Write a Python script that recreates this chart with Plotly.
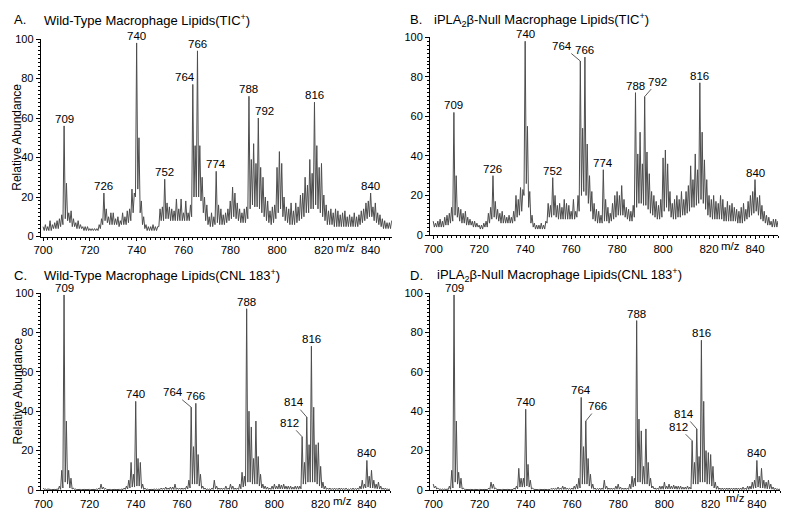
import plotly.graph_objects as go

# ---------------- data ----------------
mz = list(range(700, 851))

# Panel A: Wild-Type TIC+  (peak apex at each integer m/z, then the valley after it)
wt_tic_peak = [
    5, 6, 5, 8, 6, 7, 8, 9, 11, 56,
    27, 12, 13, 9, 7, 8, 6, 5, 5, 5,
    4, 4, 4, 4, 6, 9, 22, 14, 10, 12,
    12, 9, 10, 8, 12, 10, 13, 14, 24, 22,
    98, 50, 18, 10, 6, 5, 5, 6, 5, 5,
    14, 15, 29, 17, 15, 14, 13, 19, 14, 19,
    12, 18, 12, 16, 77, 46, 94, 46, 30, 20,
    16, 10, 12, 10, 33, 16, 14, 11, 12, 14,
    18, 25, 22, 17, 14, 12, 14, 15, 71, 39,
    47, 37, 60, 35, 30, 20, 18, 13, 15, 16,
    35, 43, 37, 20, 15, 14, 17, 13, 17, 15,
    21, 22, 30, 26, 39, 32, 68, 46, 35, 37,
    21, 16, 13, 14, 12, 14, 13, 11, 12, 13,
    10, 11, 10, 12, 10, 11, 13, 14, 17, 18,
    22, 15, 17, 12, 11, 9, 8, 7, 7, 8,
    7,
]
wt_tic_valley = [
    3, 3, 3, 3, 4, 4, 4, 5, 6, 9,
    8, 7, 5, 5, 4, 4, 4, 3, 3, 3,
    3, 3, 3, 3, 4, 6, 8, 7, 6, 6,
    6, 6, 5, 6, 6, 6, 7, 8, 12, 20,
    24, 12, 6, 4, 3, 3, 3, 3, 3, 5,
    8, 8, 9, 9, 8, 8, 8, 8, 8, 8,
    8, 8, 8, 10, 20, 20, 20, 18, 12, 8,
    6, 5, 5, 6, 7, 6, 6, 6, 7, 8,
    9, 10, 9, 8, 7, 7, 7, 9, 14, 16,
    15, 15, 14, 12, 10, 8, 7, 6, 7, 9,
    12, 14, 10, 8, 7, 6, 6, 6, 7, 8,
    9, 10, 12, 12, 14, 14, 16, 14, 12, 10,
    8, 6, 6, 6, 5, 5, 5, 5, 5, 5,
    5, 5, 5, 5, 5, 6, 7, 8, 9, 10,
    10, 8, 7, 6, 5, 4, 4, 4, 4, 4,
    4,
]

# Panel B: iPLA2beta-Null TIC+
ko_tic_peak = [
    7, 6, 7, 8, 7, 9, 10, 11, 14, 62,
    30, 14, 13, 11, 12, 9, 8, 7, 7, 6,
    5, 5, 6, 7, 11, 14, 30, 17, 13, 11,
    12, 10, 9, 10, 9, 12, 20, 18, 24, 23,
    98, 55, 22, 10, 6, 5, 5, 6, 5, 7,
    16, 15, 29, 20, 15, 16, 14, 18, 16, 15,
    12, 18, 12, 20, 88, 54, 90, 46, 30, 22,
    16, 13, 12, 10, 33, 18, 14, 11, 16, 20,
    22, 20, 25, 18, 14, 13, 12, 15, 72, 41,
    52, 36, 70, 42, 31, 22, 20, 17, 15, 18,
    39, 43, 36, 22, 16, 18, 20, 18, 22, 18,
    22, 25, 35, 28, 41, 33, 77, 52, 38, 28,
    20, 18, 20, 17, 16, 20, 18, 14, 17, 15,
    16, 14, 13, 12, 14, 16, 13, 17, 20, 22,
    28, 19, 20, 15, 12, 10, 9, 7, 8, 8,
    7,
]
ko_tic_valley = [
    4, 4, 4, 4, 4, 5, 5, 6, 7, 10,
    9, 7, 6, 6, 5, 5, 5, 4, 4, 4,
    3, 3, 4, 4, 6, 8, 9, 8, 7, 6,
    6, 6, 6, 6, 6, 7, 9, 10, 12, 20,
    26, 14, 6, 4, 3, 3, 3, 3, 3, 6,
    9, 9, 10, 9, 8, 8, 8, 8, 8, 8,
    8, 8, 9, 12, 20, 22, 20, 16, 12, 8,
    7, 6, 6, 6, 7, 7, 6, 7, 8, 9,
    10, 10, 10, 9, 8, 7, 7, 9, 14, 16,
    16, 15, 15, 13, 11, 10, 9, 8, 8, 9,
    12, 14, 12, 9, 8, 8, 9, 9, 10, 10,
    11, 12, 14, 14, 15, 16, 18, 16, 13, 10,
    9, 8, 8, 8, 8, 8, 7, 7, 7, 7,
    7, 7, 6, 6, 6, 7, 8, 9, 10, 11,
    12, 10, 8, 7, 6, 5, 5, 4, 4, 4,
    4,
]

# Panel C: Wild-Type CNL 183+
wt_cnl_peak = [
    1, 0.5, 0.5, 0.3, 0.3, 0.3, 0.5, 2, 10, 99,
    35, 10, 6, 1, 0.5, 0.3, 0.3, 0.3, 0.3, 0.3,
    0.3, 0.3, 0.3, 0.5, 1, 3, 1.5, 0.8, 0.3, 0.3,
    0.3, 0.3, 0.3, 0.3, 0.5, 1, 2, 5, 14, 8,
    45, 16, 14, 3, 1, 0.5, 0.3, 0.3, 0.5, 0.5,
    0.5, 1, 1, 1.5, 1, 1.5, 1.5, 3, 1, 1,
    1, 1, 2, 5, 42, 22, 44, 18, 8, 2,
    1, 0.5, 0.5, 1, 5, 2, 1, 1, 1, 2,
    1, 3, 2, 1, 1, 3, 9, 7, 92, 40,
    32, 16, 35, 17, 8, 3, 2, 1.5, 1, 2,
    3, 2, 3, 2.5, 3, 2, 2, 2, 1.5, 2,
    2, 2, 27, 14, 37, 23, 73, 42, 23, 24,
    12, 4, 2, 1, 1, 0.8, 1, 0.8, 1, 1,
    0.8, 1, 0.5, 0.8, 1, 0.8, 1, 2, 5, 3,
    15, 7, 10, 5, 3, 4, 2, 1, 1, 0.5,
    0.5,
]
wt_cnl_valley = [
    0.3, 0.2, 0.2, 0.2, 0.2, 0.2, 0.2, 0.3, 1, 4,
    3, 1, 0.5, 0.3, 0.2, 0.2, 0.2, 0.2, 0.2, 0.2,
    0.2, 0.2, 0.2, 0.2, 0.3, 0.5, 0.3, 0.2, 0.2, 0.2,
    0.2, 0.2, 0.2, 0.2, 0.2, 0.3, 0.5, 1, 1.5, 1.5,
    2, 2, 0.8, 0.3, 0.2, 0.2, 0.2, 0.2, 0.2, 0.2,
    0.2, 0.3, 0.3, 0.3, 0.3, 0.3, 0.3, 0.3, 0.3, 0.3,
    0.3, 0.3, 0.5, 1, 3, 3, 3, 2, 0.8, 0.4,
    0.2, 0.2, 0.2, 0.3, 0.5, 0.3, 0.3, 0.3, 0.3, 0.3,
    0.3, 0.4, 0.3, 0.3, 0.3, 0.6, 1.5, 2, 4, 4,
    3, 3, 3, 2, 1, 0.6, 0.4, 0.3, 0.3, 0.4,
    0.5, 0.5, 0.5, 0.5, 0.5, 0.4, 0.4, 0.4, 0.4, 0.4,
    0.4, 0.6, 3, 3, 4, 4, 4, 4, 3, 2,
    1, 0.5, 0.3, 0.3, 0.2, 0.2, 0.2, 0.2, 0.2, 0.2,
    0.2, 0.2, 0.2, 0.2, 0.2, 0.2, 0.3, 0.5, 0.8, 1,
    1.5, 1, 1, 0.8, 0.6, 0.5, 0.3, 0.2, 0.2, 0.2,
    0.2,
]

# Panel D: iPLA2beta-Null CNL 183+
ko_cnl_peak = [
    3, 2, 1, 0.5, 0.5, 0.5, 0.5, 2, 10, 99,
    35, 9, 6, 1, 0.3, 0.3, 0.3, 0.3, 0.3, 0.3,
    0.3, 0.3, 0.3, 0.3, 1, 4, 3, 1, 0.3, 0.3,
    0.3, 0.3, 0.3, 0.3, 0.3, 1, 2, 11, 6, 6,
    41, 13, 5, 1, 0.3, 0.3, 0.3, 0.3, 0.3, 0.3,
    0.3, 0.8, 1, 0.8, 1.5, 1, 2, 1.5, 1, 0.8,
    1, 2, 3, 6, 47, 22, 35, 16, 8, 3,
    1, 0.8, 1, 1, 5, 2, 1, 1, 1, 2,
    3, 1.5, 1, 1, 1, 3, 7, 6, 86, 36,
    30, 12, 31, 14, 6, 2, 1, 1, 2, 2,
    4, 2, 3, 2, 2.5, 2, 2, 2, 1.5, 1.5,
    2, 1.5, 25, 14, 31, 17, 76, 45, 20, 19,
    18, 12, 4, 2, 1, 1, 1, 1, 1, 1,
    1, 1, 1, 1, 1.5, 1, 2, 2, 4, 5,
    15, 7, 11, 5, 4, 5, 3, 1.5, 1, 0.5,
    0.5,
]
ko_cnl_valley = [
    1, 0.5, 0.3, 0.2, 0.2, 0.2, 0.2, 0.3, 1, 4,
    3, 1, 0.5, 0.3, 0.2, 0.2, 0.2, 0.2, 0.2, 0.2,
    0.2, 0.2, 0.2, 0.2, 0.3, 0.8, 0.5, 0.2, 0.2, 0.2,
    0.2, 0.2, 0.2, 0.2, 0.2, 0.3, 0.6, 1.5, 1.5, 1.5,
    2, 1.5, 0.5, 0.3, 0.2, 0.2, 0.2, 0.2, 0.2, 0.2,
    0.2, 0.3, 0.3, 0.3, 0.3, 0.3, 0.3, 0.3, 0.3, 0.3,
    0.3, 0.4, 0.6, 1, 3, 3, 3, 2, 0.8, 0.4,
    0.2, 0.2, 0.2, 0.3, 0.5, 0.3, 0.3, 0.3, 0.3, 0.4,
    0.4, 0.3, 0.3, 0.3, 0.3, 0.6, 1.5, 2, 4, 4,
    3, 3, 3, 2, 1, 0.5, 0.3, 0.3, 0.4, 0.4,
    0.5, 0.5, 0.5, 0.5, 0.5, 0.4, 0.4, 0.4, 0.4, 0.4,
    0.4, 0.5, 3, 3, 3, 4, 4, 4, 3, 3,
    2, 1, 0.4, 0.3, 0.2, 0.2, 0.2, 0.2, 0.2, 0.2,
    0.2, 0.2, 0.2, 0.2, 0.3, 0.2, 0.3, 0.5, 0.8, 1,
    1.5, 1, 1, 0.8, 0.6, 0.6, 0.4, 0.2, 0.2, 0.2,
    0.2,
]

# labelled peaks per panel
wt_tic_labels = [709, 726, 740, 752, 764, 766, 774, 788, 792, 816, 840]
ko_tic_labels = [709, 726, 740, 752, 764, 766, 774, 788, 792, 816, 840]
wt_cnl_labels = [709, 740, 764, 766, 788, 812, 814, 816, 840]
ko_cnl_labels = [709, 740, 764, 766, 788, 812, 814, 816, 840]

x_ticks = [700, 720, 740, 760, 780, 800, 820, 840]
y_ticks = [0, 20, 40, 60, 80, 100]

titles = [
    "Wild-Type Macrophage Lipids(TIC<sup>+</sup>)",
    "iPLA<sub>2</sub>β-Null Macrophage Lipids(TIC<sup>+</sup>)",
    "Wild-Type Macrophage Lipids(CNL 183<sup>+</sup>)",
    "iPLA<sub>2</sub>β-Null Macrophage Lipids(CNL 183<sup>+</sup>)",
]
letters = ["A.", "B.", "C.", "D."]
y_title = "Relative Abundance"

# ---------------- figure ----------------
W, H = 800, 521
FONT = "Arial, Liberation Sans, sans-serif"

panels = [
    dict(peak=wt_tic_peak, valley=wt_tic_valley, labels=wt_tic_labels,
         xd=[40.7 / W, 391.7 / W], xr=[699, 849], yd=[1 - 236.5 / H, 1 - 39 / H],
         leaders={764: (-8, 0, False), 792: (6, 0, False)},
         mzlab=(829.4, 0), title_xy=(42, 20), letter_xy=(12, 20), ytitle=True),
    dict(peak=ko_tic_peak, valley=ko_tic_valley, labels=ko_tic_labels,
         xd=[430 / W, 778 / W], xr=[698.6, 850], yd=[1 - 235 / H, 1 - 37.3 / H],
         leaders={764: (-18, -8, True), 792: (13, -8, True)},
         mzlab=(829.2, 0), title_xy=(432, 20), letter_xy=(408, 20), ytitle=False),
    dict(peak=wt_cnl_peak, valley=wt_cnl_valley, labels=wt_cnl_labels,
         xd=[40.7 / W, 390 / W], xr=[698.9, 850], yd=[1 - 490 / H, 1 - 293 / H],
         leaders={764: (-18, -8, True), 812: (-13, -7, True), 814: (-13, -8, True)},
         mzlab=(829.6, 0), title_xy=(42, 275), letter_xy=(12, 275), ytitle=True),
    dict(peak=ko_cnl_peak, valley=ko_cnl_valley, labels=ko_cnl_labels,
         xd=[430 / W, 780 / W], xr=[698.6, 850], yd=[1 - 490 / H, 1 - 293 / H],
         leaders={766: (12, -8, True), 812: (-14, -7, True), 814: (-13, -8, True)},
         mzlab=(830.8, 3), title_xy=(435, 275), letter_xy=(408, 275), ytitle=False),
]

fig = go.Figure()
annotations = []

for i, p in enumerate(panels):
    n = "" if i == 0 else str(i + 1)
    xa, ya = "x" + n, "y" + n
    xs, ys = [], []
    for m, pk, vl in zip(mz, p["peak"], p["valley"]):
        xs += [m, m + 0.5]
        ys += [pk, vl]
    fig.add_trace(go.Scatter(x=xs, y=ys, mode="lines", xaxis=xa, yaxis=ya,
                             line=dict(color="#4d4d4d", width=1), showlegend=False,
                             hoverinfo="skip"))

    fig.update_layout(**{
        "xaxis" + n: dict(domain=p["xd"], range=p["xr"], anchor=ya,
                          tickvals=x_ticks, ticks="outside", ticklen=3, tickwidth=1,
                          tickcolor="black", showline=True, linecolor="black", linewidth=1,
                          showgrid=False, zeroline=False, automargin=False,
                          tickfont=dict(family=FONT, size=11.5, color="black"),
                          minor=dict(dtick=2, ticks="outside", ticklen=2, tickcolor="black")),
        "yaxis" + n: dict(domain=p["yd"], range=[0, 100], anchor=xa,
                          tickvals=y_ticks, ticks="outside", ticklen=4, tickwidth=1,
                          tickcolor="black", showline=True, linecolor="black", linewidth=1,
                          showgrid=False, zeroline=False, automargin=False,
                          tickfont=dict(family=FONT, size=11, color="black"),
                          minor=dict(dtick=2, ticks="outside", ticklen=2, tickcolor="black")),
    })

    # peak labels
    for lab in p["labels"]:
        yv = p["peak"][mz.index(lab)]
        dx, dy, arrow = p["leaders"].get(lab, (0, 0, False))
        if arrow:
            annotations.append(dict(x=lab, y=yv, xref=xa, yref=ya, text=str(lab),
                                    showarrow=True, ax=dx, ay=dy - 7, arrowhead=0,
                                    arrowwidth=0.8, arrowcolor="#333", standoff=0,
                                    font=dict(family=FONT, size=11.5, color="black")))
        else:
            annotations.append(dict(x=lab, y=yv, xref=xa, yref=ya, text=str(lab),
                                    showarrow=False, yanchor="bottom", xshift=dx, yshift=-1,
                                    font=dict(family=FONT, size=11.5, color="black")))

    # m/z label on the axis line
    annotations.append(dict(x=p["mzlab"][0], y=0, xref=xa, yref=ya, text="m/z",
                            showarrow=False, yanchor="top", yshift=-3 + p["mzlab"][1],
                            font=dict(family=FONT, size=11.5, color="black")))

    # panel letter and title
    lx, ly = p["letter_xy"]
    tx, ty = p["title_xy"]
    annotations.append(dict(x=lx / W, y=1 - ly / H, xref="paper", yref="paper",
                            text=letters[i], showarrow=False, xanchor="left", yanchor="middle",
                            font=dict(family=FONT, size=13, color="black")))
    annotations.append(dict(x=tx / W, y=1 - ty / H, xref="paper", yref="paper",
                            text=titles[i], showarrow=False, xanchor="left", yanchor="middle",
                            font=dict(family=FONT, size=13, color="black")))
    if p["ytitle"]:
        annotations.append(dict(x=17 / W, y=(p["yd"][0] + p["yd"][1]) / 2,
                                xref="paper", yref="paper", text=y_title, textangle=-90,
                                showarrow=False, xanchor="center", yanchor="middle",
                                font=dict(family=FONT, size=12, color="black")))

fig.update_layout(width=W, height=H, margin=dict(l=0, r=0, t=0, b=0),
                  paper_bgcolor="white", plot_bgcolor="white",
                  annotations=annotations, showlegend=False)

fig.write_html("out.html", config={"displayModeBar": False},
               post_script="document.body.style.margin='0px';document.body.style.overflow='hidden';")
